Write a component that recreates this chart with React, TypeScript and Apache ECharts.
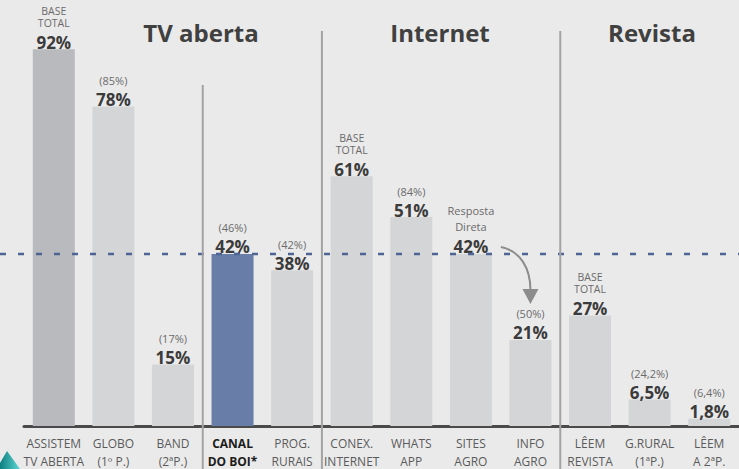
import React, { useEffect, useRef } from "react";
import * as echarts from "echarts";

const CATEGORIES = [
  "ASSISTEM\nTV ABERTA",
  "GLOBO\n(1º P.)",
  "BAND\n(2ªP.)",
  "CANAL\nDO BOI*",
  "PROG.\nRURAIS",
  "CONEX.\nINTERNET",
  "WHATS\nAPP",
  "SITES\nAGRO",
  "INFO\nAGRO",
  "LÊEM\nREVISTA",
  "G.RURAL\n(1ªP.)",
  "LÊEM\nA 2ªP.",
];
const VALUES = [92, 78, 15, 42, 38, 61, 51, 42, 21, 27, 6.5, 1.8];
const VALUE_LABELS = ["92%", "78%", "15%", "42%", "38%", "61%", "51%", "42%", "21%", "27%", "6,5%", "1,8%"];
const NOTES = [
  "BASE\nTOTAL",
  "(85%)",
  "(17%)",
  "(46%)",
  "(42%)",
  "BASE\nTOTAL",
  "(84%)",
  "Resposta\nDireta",
  "(50%)",
  "BASE\nTOTAL",
  "(24,2%)",
  "(6,4%)",
];
const GROUP_TITLES = ["TV aberta", "Internet", "Revista"];
const REFERENCE_VALUE = 42;
const HIGHLIGHT_INDEX = 3;
const TOTAL_INDEX = 0;

const W = 739;
const H = 469;
const FONT = "'Open Sans', 'Noto Sans', sans-serif";

export default function App() {
  const ref = useRef<HTMLDivElement>(null);
  useEffect(() => {
    document.body.style.margin = "0";
    const chart = echarts.init(ref.current!, null, { renderer: "svg" });
    const option: any = {
      animation: false,
      backgroundColor: "#eaeaea",
      textStyle: { fontFamily: FONT },
      grid: [
        { left: 24, right: -4, top: 0, bottom: 43 },
        { left: 0, right: 0, top: 0, bottom: 43 },
      ],
      xAxis: [
        {
          type: "category",
          gridIndex: 0,
          data: CATEGORIES,
          axisLine: { lineStyle: { color: "#4a4a4a", width: 3 } },
          axisTick: { show: false },
          axisLabel: {
            interval: 0,
            margin: 8,
            formatter: (v: string, i: number) => {
              const s = i === HIGHLIGHT_INDEX ? "b" : "a";
              return v
                .split("\n")
                .map((l) => `{${s}|${l}}`)
                .join("\n");
            },
            rich: {
              a: { fontSize: 12, lineHeight: 18, color: "#5a5a5a", fontFamily: FONT },
              b: { fontSize: 12, lineHeight: 18, color: "#1c1c1c", fontWeight: "bold", fontFamily: FONT },
            },
          },
        },
        { type: "value", gridIndex: 1, min: 0, max: 1, show: false },
      ],
      yAxis: [
        { type: "value", gridIndex: 0, min: 0, max: 104, show: false, splitLine: { show: false } },
        { type: "value", gridIndex: 1, min: 0, max: 104, show: false, splitLine: { show: false } },
      ],
      series: [
        {
          type: "bar",
          xAxisIndex: 0,
          yAxisIndex: 0,
          barWidth: 42,
          data: VALUES.map((v, i) => ({
            value: v,
            itemStyle: {
              color: i === HIGHLIGHT_INDEX ? "#687ea9" : i === TOTAL_INDEX ? "#b9babd" : "#d4d5d7",
            },
          })),
          label: {
            show: true,
            position: "top",
            distance: 0,
            formatter: (p: any) => {
              const i = p.dataIndex;
              const note = NOTES[i];
              const lines = note.split("\n");
              const style = lines.length > 1 ? (note.startsWith("BASE") ? "b" : "r") : "n";
              const parts = lines.map((l) => `{${style}|${l}}`);
              if (style === "b") parts.push("{g1| }");
              if (style === "r") parts.push("{g2| }");
              parts.push(`{v|${VALUE_LABELS[i]}}`);
              return parts.join("\n");
            },
            rich: {
              b: { fontSize: 10.5, lineHeight: 12, color: "#6a6a6a", fontFamily: FONT },
              r: { fontSize: 11, lineHeight: 16, color: "#6a6a6a", fontFamily: FONT },
              n: { fontSize: 11, lineHeight: 24, color: "#6a6a6a", fontFamily: FONT },
              g1: { fontSize: 1, lineHeight: 6 },
              g2: { fontSize: 1, lineHeight: 5 },
              v: { fontSize: 17, lineHeight: 14, fontWeight: "bold", color: "#3b3b3b", fontFamily: FONT },
            },
          },
          z: 2,
        },
        {
          type: "line",
          xAxisIndex: 1,
          yAxisIndex: 1,
          data: [
            [0, REFERENCE_VALUE],
            [1, REFERENCE_VALUE],
          ],
          symbol: "none",
          lineStyle: { color: "#4d6494", width: 2.5, type: [6, 12] },
          z: 5,
          silent: true,
        },
      ],
    };
    chart.setOption(option);

    // annotations positioned from the chart's own scales
    const px = (i: number, v: number) => chart.convertToPixel({ seriesIndex: 0 }, [i, v]) as number[];
    const between = (i: number) => (px(i, 0)[0] + px(i + 1, 0)[0]) / 2;
    const sep = (x: number, y0: number) => ({
      type: "line",
      shape: { x1: x, y1: y0, x2: x, y2: H },
      style: { stroke: "#a3a3a3", lineWidth: 2 },
      z: 10,
    });
    const sites = px(7, VALUES[7]);
    const info = px(8, VALUES[8]);
    const sx = sites[0] + 30;
    const sy = sites[1] - 7;
    const tipX = info[0];
    const tipY = info[1] - 36;
    const title = (text: string, x: number) => ({
      type: "text",
      x,
      y: 32,
      style: {
        text,
        fill: "#404040",
        font: `bold 24px ${FONT}`,
        align: "center",
        verticalAlign: "middle",
      },
      z: 10,
    });
    chart.setOption({
      graphic: [
        sep(between(2), 85),
        sep(between(4), 31),
        sep(between(8), 31),
        title(GROUP_TITLES[0], 201),
        title(GROUP_TITLES[1], 440),
        title(GROUP_TITLES[2], 652),
        {
          type: "bezierCurve",
          shape: {
            x1: sx,
            y1: sy,
            cpx1: sx + 20,
            cpy1: sy + 4,
            cpx2: tipX,
            cpy2: sy + 22,
            x2: tipX,
            y2: tipY - 14,
          },
          style: { stroke: "#8c8c8c", lineWidth: 2, fill: "none" },
          z: 10,
        },
        {
          type: "polygon",
          shape: {
            points: [
              [tipX - 8, tipY - 15],
              [tipX + 8, tipY - 15],
              [tipX, tipY],
            ],
          },
          style: { fill: "#8c8c8c" },
          z: 10,
        },
        {
          type: "polygon",
          shape: {
            points: [
              [0, 463],
              [7, 451],
              [20, 469],
              [0, 469],
            ],
          },
          style: {
            fill: new echarts.graphic.LinearGradient(0, 0, 1, 0, [
              { offset: 0, color: "#0c7f80" },
              { offset: 1, color: "#5fd6d4" },
            ]),
          },
          z: 10,
        },
      ],
    });
    return () => chart.dispose();
  }, []);
  return <div ref={ref} style={{ width: W, height: H }} />;
}
